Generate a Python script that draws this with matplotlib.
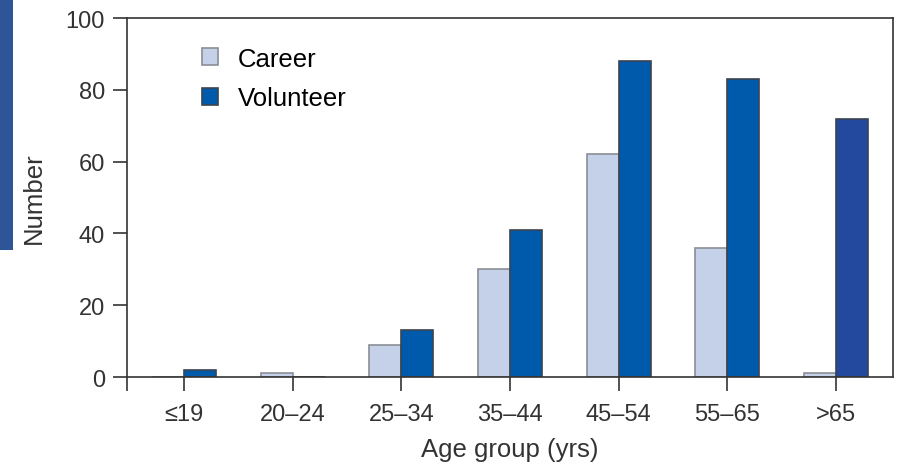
import numpy as np
import matplotlib.pyplot as plt
from matplotlib.patches import Rectangle

plt.rcParams['font.family'] = ['Liberation Sans', 'DejaVu Sans']

# data
age_groups = ['≤19', '20–24', '25–34', '35–44', '45–54', '55–65', '>65']
career = [0, 1, 9, 30, 62, 36, 1]
volunteer = [2, 0, 13, 41, 88, 83, 72]
volunteer_colors = ['#005aab'] * 6 + ['#22499e']

fig = plt.figure(figsize=(8.97, 4.64), dpi=100)
ax = fig.add_axes([0.1416, 0.1853, 0.8539, 0.7737])

# decorative slide stripe at the left edge
fig.patches.append(Rectangle((0, 0.46), 0.014, 0.54, transform=fig.transFigure,
                             facecolor='#2e5597', edgecolor='none'))

x = np.arange(len(age_groups))
w = 0.295
ax.bar(x - w / 2, career, w, color='#c5d1e8', edgecolor='#8a8f96', linewidth=1.2,
       label='Career')
ax.bar(x + w / 2, volunteer, w, color=volunteer_colors, edgecolor='#3a4450',
       linewidth=1.2, label='Volunteer')

ax.set_xlim(-0.525, 6.525)
ax.set_ylim(0, 100)
ax.set_yticks(range(0, 101, 20))
ax.set_xticks(x)
ax.set_xticklabels(age_groups)
ax.set_xticks([-0.525], minor=True)
ax.tick_params(axis='both', which='both', direction='out', length=10, width=1.2,
               labelsize=17, colors='#333333', labelcolor='#333333')
ax.tick_params(axis='x', pad=9)
ax.tick_params(axis='y', pad=6)
for s in ax.spines.values():
    s.set_linewidth(1.2)
    s.set_color('#333333')

ax.set_xlabel('Age group (yrs)', fontsize=18.5, color='#333333', labelpad=8)
ax.set_ylabel('Number', fontsize=18.5, color='#333333', labelpad=14)

ax.legend(loc='upper left', bbox_to_anchor=(0.068, 0.985), frameon=False,
          fontsize=18.5, handlelength=0.6, handleheight=0.6, handletextpad=0.8,
          labelspacing=0.62)

plt.savefig('out.png', dpi=100)
